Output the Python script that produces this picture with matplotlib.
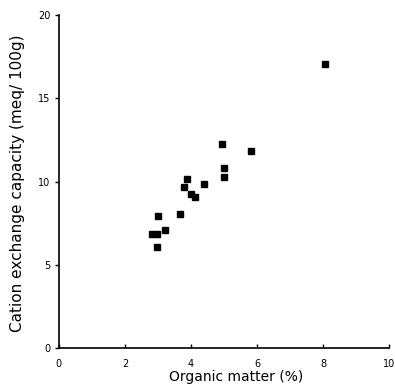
import matplotlib
matplotlib.use("Agg")
import matplotlib.pyplot as plt

# organic matter (%) vs cation exchange capacity (meq/100g)
organic_matter = [2.83, 2.97, 2.98, 3.00, 3.21, 3.67, 3.78, 3.89, 3.99, 4.13,
                  4.39, 4.93, 5.01, 5.01, 5.83, 8.05]
cec = [6.84, 6.84, 6.08, 7.90, 7.08, 8.04, 9.68, 10.14, 9.26, 9.10,
       9.88, 12.24, 10.82, 10.30, 11.82, 17.04]

x_ticks = [0, 2, 4, 6, 8, 10]
y_ticks = [0, 5, 10, 15, 20]

plt.rcParams['font.family'] = ['DejaVu Sans']

fig = plt.figure(figsize=(3.95, 3.85), dpi=100)
ax = fig.add_axes([0.149, 0.096, 0.836, 0.865])

ax.plot(organic_matter, cec, 's', color='black', ms=4.3, mec='black')

ax.set_xlim(0, 10)
ax.set_ylim(0, 20)
ax.set_xticks(x_ticks)
ax.set_yticks(y_ticks)
ax.spines['top'].set_visible(False)
ax.spines['right'].set_visible(False)
for sp in ax.spines.values():
    sp.set_linewidth(1.2)

ax.tick_params(axis='x', direction='in', length=3, width=1, labelsize=7, pad=8)
ax.tick_params(axis='y', direction='out', length=3, width=1, labelsize=7, pad=3)

xl = ax.set_xlabel('Organic matter (%)', fontsize=10)
xl.set_va('center')
ax.xaxis.set_label_coords(0.536, -0.087)
yl = ax.set_ylabel('Cation exchange capacity (meq/ 100g)', fontsize=11)
yl.set_va('center')
ax.yaxis.set_label_coords(-0.124, 0.495)

fig.savefig('out.png', dpi=100)
